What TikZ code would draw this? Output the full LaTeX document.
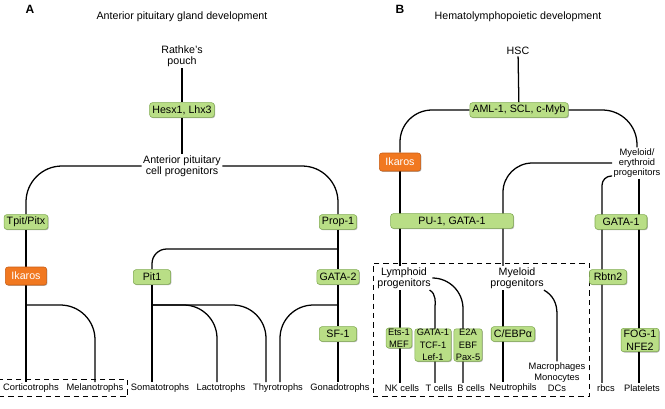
\documentclass[tikz,border=0pt]{standalone}
\usepackage{fontspec}
\setmainfont{Liberation Sans}
\definecolor{boxgreen}{RGB}{185, 222, 134}
\definecolor{boxedge}{RGB}{128, 170, 80}
\definecolor{ikorange}{RGB}{241, 120, 32}
\definecolor{ikedge}{RGB}{200, 92, 20}
\usetikzlibrary{positioning, backgrounds, fit, shadows}

\begin{document}
\begin{tikzpicture}[
    x=0.75pt, y=0.75pt,
    every node/.style={inner sep=1pt},
    factor/.style={rectangle, rounded corners=2pt, fill=boxgreen, draw=boxedge, line width=0.4pt,
                   minimum width=28pt, minimum height=11pt, inner xsep=2pt, inner ysep=1pt,
                   align=center, font=\fontsize{8}{10}\selectfont,
                   drop shadow={shadow xshift=0.6pt, shadow yshift=-0.6pt, fill=black, opacity=0.3}},
    smallfactor/.style={factor, minimum width=0pt, inner xsep=1.5pt, inner ysep=0.5pt,
                        font=\fontsize{7}{9.2}\selectfont},
    ikaros/.style={factor, fill=ikorange, draw=ikedge, text=white, minimum width=31pt, minimum height=13.5pt},
    stage/.style={align=center, font=\fontsize{8}{8.25}\selectfont},
    cell/.style={align=center, font=\fontsize{7}{8}\selectfont},
    link/.style={draw, line width=0.95pt},
    dashbox/.style={draw, line width=0.6pt, dash pattern=on 4pt off 3pt, inner sep=2pt},
    panel/.style={font=\bfseries\fontsize{9}{10}\selectfont}
]
    \useasboundingbox (0,0) rectangle (665,-408);

    % Panel A: anterior pituitary
    \node[panel] (labA) at (30,-9) {A};
    \node[stage] (titleA) at (182,-17) {Anterior pituitary gland development};
    \node[stage] (rathke) at (182,-56) {Rathke's\\pouch};
    \node[factor] (hesx) at (182,-110) {Hesx1, Lhx3};
    \node[stage] (apcp) at (182,-166) {Anterior pituitary\\cell progenitors};
    \node[factor] (tpit) at (26,-222) {Tpit/Pitx};
    \node[ikaros] (ikarosA) at (26,-276) {Ikaros};
    \node[factor] (prop) at (338,-222) {Prop-1};
    \node[factor] (pit) at (152,-277) {Pit1};
    \node[factor] (gata2) at (338,-277) {GATA-2};
    \node[factor] (sf) at (338,-334) {SF-1};

    % Panel A: cell types
    \node[cell] (cort) at (31,-388) {Corticotrophs};
    \node[cell] (mela) at (95,-388) {Melanotrophs};
    \node[cell] (soma) at (160,-388) {Somatotrophs};
    \node[cell] (lact) at (221,-388) {Lactotrophs};
    \node[cell] (thyro) at (278,-388) {Thyrotrophs};
    \node[cell] (gona) at (340,-388) {Gonadotrophs};

    % Panel B: hematolymphopoiesis
    \node[panel] (labB) at (400,-9) {B};
    \node[stage] (titleB) at (518,-17) {Hematolymphopoietic development};
    \node[stage] (hsc) at (518,-51) {HSC};
    \node[factor] (aml) at (519,-110) {AML-1, SCL, c-Myb};
    \node[ikaros] (ikarosB) at (400,-162) {Ikaros};
    \node[cell, font=\fontsize{7}{7.3}\selectfont] (myery) at (637,-163) {Myeloid/\\erythroid\\progenitors};
    \node[factor, minimum width=92pt] (pu) at (452,-221) {PU-1, GATA-1};
    \node[factor, minimum width=39pt] (gataB) at (621,-222) {GATA-1};
    \node[stage] (lym) at (404,-278) {Lymphoid\\progenitors};
    \node[stage] (myl) at (517,-278) {Myeloid\\progenitors};
    \node[factor] (rbtn) at (608,-277) {Rbtn2};
    \node[smallfactor] (ets) at (399,-338) {Ets-1\\MEF};
    \node[smallfactor] (gtl) at (433,-345) {GATA-1\\TCF-1\\Lef-1};
    \node[smallfactor] (e2a) at (468,-345) {E2A\\EBF\\Pax-5};
    \node[factor] (cebp) at (513,-334) {C/EBPα};
    \node[factor] (fog) at (640,-340) {FOG-1\\NFE2};
    \node[cell] (mac) at (557,-377) {Macrophages\\Monocytes\\DCs};

    % Panel B: cell types
    \node[cell] (nk) at (402,-388) {NK cells};
    \node[cell] (tc) at (439,-388) {T cells};
    \node[cell] (bc) at (471,-388) {B cells};
    \node[cell] (neut) at (513,-388) {Neutrophils};
    \node[cell] (rbc) at (606,-388) {rbcs};
    \node[cell] (plat) at (642,-388) {Platelets};

    % branch points and columns
    \coordinate (ikA) at (26,-305);
    \coordinate (pitA) at (152,-305);
    \coordinate (gataA) at (338,-305);
    \coordinate (propA) at (338,-249);
    \coordinate (colT) at (435,0);
    \coordinate (colB) at (463,0);
    \coordinate (colM) at (503,0);
    \coordinate (colE) at (602,0);
    \coordinate (colP) at (639,0);

    \begin{scope}[on background layer]
        % lineages A
        \draw[link] (rathke) -- (hesx) -- (apcp);
        \draw[link, rounded corners=27pt] (apcp.west) -| (tpit.north);
        \draw[link, rounded corners=27pt] (apcp.east) -| (prop.north);
        \draw[link] (tpit) -- (ikarosA);
        \draw[link] (ikarosA.south) -- (ikarosA.south |- cort.north);
        \draw[link, rounded corners=26pt] (ikA) -| (mela.north);
        \draw[link] (prop) -- (gata2) -- (sf);
        \draw[link] (sf.south) -- (sf.south |- gona.north);
        \draw[link, rounded corners=11pt] (propA) -| (pit.north);
        \draw[link] (pit.south) -- (pit.south |- soma.north);
        \draw[link, rounded corners=25pt] (pitA) -| ([xshift=-3pt]lact.north);
        \draw[link, rounded corners=25pt] (pitA) -| ([xshift=-9pt]thyro.north);
        \draw[link, rounded corners=25pt] (gataA) -| ([xshift=1.5pt]thyro.north);

        % lineages B
        \draw[link] (hsc) -- (aml);
        \draw[link, rounded corners=24pt] (aml.west) -| (ikarosB.north);
        \draw[link, rounded corners=26pt] (aml.east) -| (myery.north);
        \draw[link] (ikarosB.south) -- (ikarosB.south |- lym.north);
        \draw[link] (ikarosB.south |- lym.south) -- (ikarosB.south |- nk.north);
        \draw[link, rounded corners=22pt] (myery.west) -| (colM |- myl.north);
        \draw[link] (colM |- myl.south) -- (colM |- neut.north);
        \draw[link, rounded corners=7pt] ([yshift=2pt]myery.south west) -| (colE |- rbc.north);
        \draw[link] (colP |- myery.south) -- (colP |- plat.north);
        \draw[link] ([xshift=-2pt]lym.south east) to[out=-30, in=90] ([yshift=-15pt]colT |- lym.south) -- (colT |- tc.north);
        \draw[link, rounded corners=23pt] (lym.east) -| (colB |- bc.north);
        \draw[link] ([xshift=-1pt]myl.south east) to[out=-30, in=90] ([yshift=-18pt]mac.north |- myl.south) -- (mac.north);

        % progenitor pools
        \node[dashbox, fit=(cort)(mela)] (poolA) {};
        \node[dashbox, fit=(lym)(myl)(mac)(nk)(neut)] (poolB) {};
    \end{scope}
\end{tikzpicture}
\end{document}
